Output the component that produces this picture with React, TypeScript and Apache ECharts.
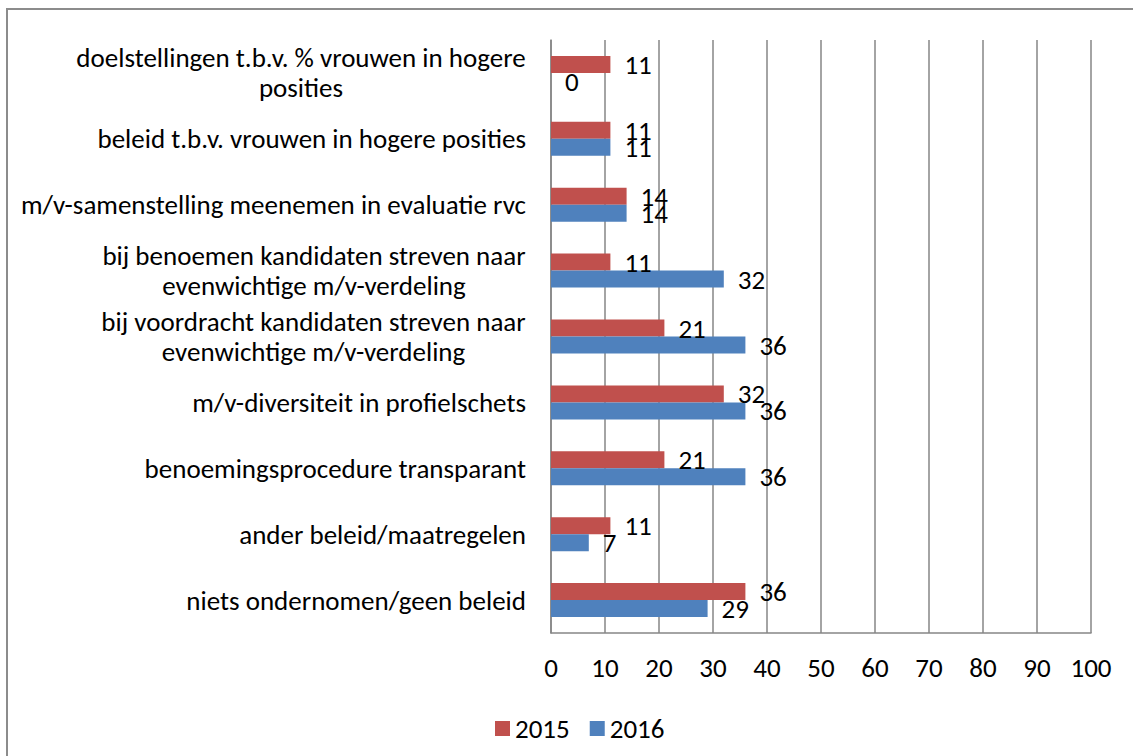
import React, { useEffect, useRef } from "react";
import * as echarts from "echarts";

const categoryLabels: string[] = [
  "doelstellingen t.b.v. % vrouwen in hogere\nposities",
  "beleid t.b.v. vrouwen in hogere posities",
  "m/v-samenstelling meenemen in evaluatie rvc",
  "bij benoemen kandidaten streven naar\nevenwichtige m/v-verdeling",
  "bij voordracht kandidaten streven naar\nevenwichtige m/v-verdeling",
  "m/v-diversiteit in profielschets",
  "benoemingsprocedure transparant",
  "ander beleid/maatregelen",
  "niets ondernomen/geen beleid",
];
const values2015: number[] = [11, 11, 14, 11, 21, 32, 21, 11, 36];
const values2016: number[] = [0, 11, 14, 32, 36, 36, 36, 7, 29];
const seriesNames: string[] = ["2015", "2016"];
const xTicks = { min: 0, max: 100, interval: 10 };

const FONT = "Carlito, Lato, 'Open Sans', sans-serif";
const FS = 27;

function measure(text: string): number {
  const c = document.createElement("canvas");
  const ctx = c.getContext("2d");
  if (!ctx) return text.length * 12;
  ctx.font = `${FS}px ${FONT}`;
  return ctx.measureText(text).width;
}

export default function App() {
  const ref = useRef<HTMLDivElement>(null);
  useEffect(() => {
    if (!ref.current) return;
    const chart = echarts.init(ref.current, null, { renderer: "svg" });
    const rich: Record<string, any> = {};
    categoryLabels.forEach((lbl, i) => {
      const lines = lbl.split("\n");
      const w = Math.ceil(Math.max(...lines.map(measure)));
      rich["w" + i] = { width: w, align: "center", fontSize: FS, fontFamily: FONT, color: "#000", lineHeight: 30 };
    });
    const labelStyle = { show: true, position: "right", distance: 14, fontSize: FS, fontFamily: FONT, color: "#000" };
    chart.setOption({
      animation: false,
      textStyle: { fontFamily: FONT },
      graphic: [
        {
          type: "rect",
          shape: { x: 7, y: 9, width: 1140, height: 760 },
          style: { fill: "none", stroke: "#8c8c8c", lineWidth: 2 },
          silent: true,
        },
      ],
      grid: { left: 551, right: 42, top: 40, bottom: 123, containLabel: false },
      legend: {
        data: seriesNames,
        left: 490,
        top: 710,
        itemWidth: 15,
        itemHeight: 15,
        itemGap: 20,
        icon: "rect",
        textStyle: { fontSize: FS, fontFamily: FONT, color: "#000" },
      },
      xAxis: {
        type: "value",
        min: xTicks.min,
        max: xTicks.max,
        interval: xTicks.interval,
        axisLine: { show: true, lineStyle: { color: "#868686", width: 1.5 } },
        axisTick: { show: false },
        splitLine: { show: true, lineStyle: { color: "#868686", width: 1.5 } },
        axisLabel: { fontSize: FS, fontFamily: FONT, color: "#000", margin: 21 },
      },
      yAxis: {
        type: "category",
        inverse: true,
        data: categoryLabels,
        axisLine: { show: true, lineStyle: { color: "#868686", width: 1.5 } },
        axisTick: { show: false },
        axisLabel: {
          fontSize: FS,
          fontFamily: FONT,
          color: "#000",
          margin: 25,
          lineHeight: 30,
          interval: 0,
          formatter: (v: string, i: number) => {
            const lines = v.split("\n");
            if (lines.length === 1) return v;
            return lines.map((l) => `{w${i}|${l}}`).join("\n");
          },
          rich,
        },
      },
      series: [
        {
          name: seriesNames[0],
          type: "bar",
          data: values2015,
          barWidth: 17,
          barGap: "0%",
          itemStyle: { color: "#C0504D" },
          label: labelStyle,
        },
        {
          name: seriesNames[1],
          type: "bar",
          data: values2016,
          barWidth: 17,
          barGap: "0%",
          itemStyle: { color: "#4F81BD" },
          label: labelStyle,
        },
      ],
    });
    return () => chart.dispose();
  }, []);
  return (
    <div
      ref={ref}
      style={{ position: "absolute", left: 0, top: 0, width: 1133, height: 756, background: "#fff" }}
    />
  );
}
